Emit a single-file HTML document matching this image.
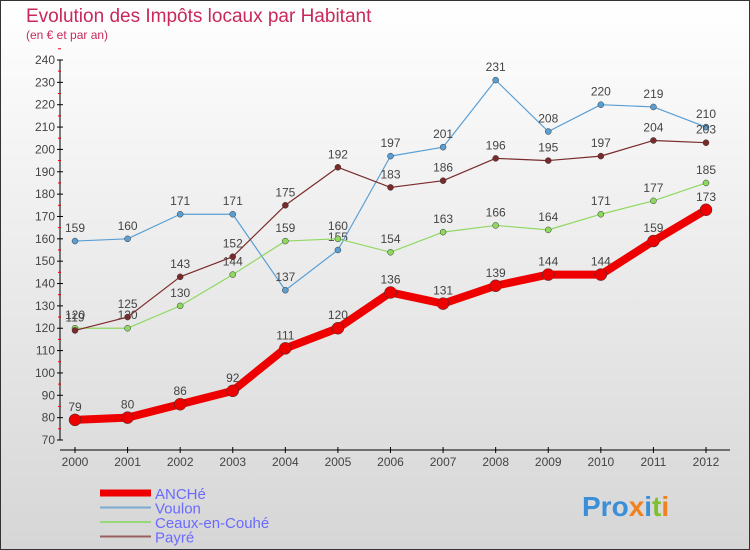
<!DOCTYPE html>
<html><head><meta charset="utf-8"><style>
body{margin:0}
#c{width:750px;height:550px;position:relative;font-family:"Liberation Sans",sans-serif;background:linear-gradient(#ffffff,#d6d6d6);box-sizing:border-box;border:1px solid #333;overflow:hidden}
</style></head><body>
<div id="c">
<svg id="s" width="750" height="550" style="position:absolute;left:-1px;top:-1px">
<text x="26" y="22" font-size="19" fill="#c8285a">Evolution des Impôts locaux par Habitant</text>
<text x="26" y="39" font-size="12" fill="#c8285a">(en € et par an)</text>
<g id="axes"></g><g id="series"></g><g id="legend"></g>
<text x="582" y="516" font-size="28" font-weight="bold" fill="#3a8fd8">Pro<tspan fill="#f08020">x</tspan><tspan fill="#3a8fd8">i</tspan><tspan fill="#80c030">t</tspan><tspan fill="#f08020">i</tspan></text>
</svg></div>
<script>
const years=[2000,2001,2002,2003,2004,2005,2006,2007,2008,2009,2010,2011,2012];
const yTicks=[70,80,90,100,110,120,130,140,150,160,170,180,190,200,210,220,230,240];
const anche=[79,80,86,92,111,120,136,131,139,144,144,159,173];
const voulon=[159,160,171,171,137,155,197,201,231,208,220,219,210];
const ceaux=[120,120,130,144,159,160,154,163,166,164,171,177,185];
const payre=[119,125,143,152,175,192,183,186,196,195,197,204,203];
const NS="http://www.w3.org/2000/svg";
function xS(i){return 75+i*(706-75)/(years.length-1);}
function yS(v){return 440-(v-70)*(380/170);}
function mk(p,t,a){const e=document.createElementNS(NS,t);for(const k in a)e.setAttribute(k,a[k]);p.appendChild(e);return e;}
const ax=document.getElementById('axes');
let e=mk(ax,'line',{x1:60,y1:60,x2:60,y2:440,stroke:'#000'});

e=mk(ax,'line',{x1:60,y1:450,x2:730,y2:450,stroke:'#000'});

yTicks.forEach(v=>{const y=yS(v);mk(ax,'line',{x1:57,y1:y,x2:63,y2:y,stroke:'#000'});
 mk(ax,'line',{x1:58,y1:y-11.2,x2:61,y2:y-11.2,stroke:'#e00'});
 const t=mk(ax,'text',{x:55,y:y+4,'font-size':12,fill:'#444','text-anchor':'end'});t.textContent=v;
 });
years.forEach((yr,i)=>{const x=xS(i);mk(ax,'line',{x1:x,y1:447,x2:x,y2:453,stroke:'#000'});
 const t=mk(ax,'text',{x:x,y:466,'font-size':12,fill:'#444','text-anchor':'middle'});t.textContent=yr;
 });
const sg=document.getElementById('series');
function draw(data,color,w,r,name){
 const g=mk(sg,'g',{});
 mk(g,'polyline',{points:data.map((v,i)=>xS(i)+','+yS(v)).join(' '),fill:'none',stroke:color,'stroke-width':w,'stroke-linejoin':'round'});
 data.forEach((v,i)=>{const c=mk(g,'circle',{cx:xS(i),cy:yS(v),r:r,fill:color,stroke:'#333','stroke-width':0.5});
  
  const t=mk(g,'text',{x:xS(i),y:yS(v)-9,'font-size':12,fill:'#444','text-anchor':'middle'});t.textContent=v;
  });
}
draw(voulon,'#5a9fd4',1.2,3,'voulon');
draw(ceaux,'#8fd860',1.2,3,'ceaux');
draw(payre,'#7a2a2a',1.2,3,'payre');
draw(anche,'#ee0000',8,6,'anche');
const lg=document.getElementById('legend');
[['ANCHé','#ee0000',7],['Voulon','#7aaad0',2],['Ceaux-en-Couhé','#98d878',2],['Payré','#9a6060',2]].forEach((d,i)=>{
 const y=493+i*14.5;const g=mk(lg,'g',{});
 mk(g,'line',{x1:100,y1:y,x2:151,y2:y,stroke:d[1],'stroke-width':d[2]});
 const t=mk(g,'text',{x:155,y:y+6,'font-size':15,fill:'#6a6aff'});t.textContent=d[0];});
</script></body></html>
